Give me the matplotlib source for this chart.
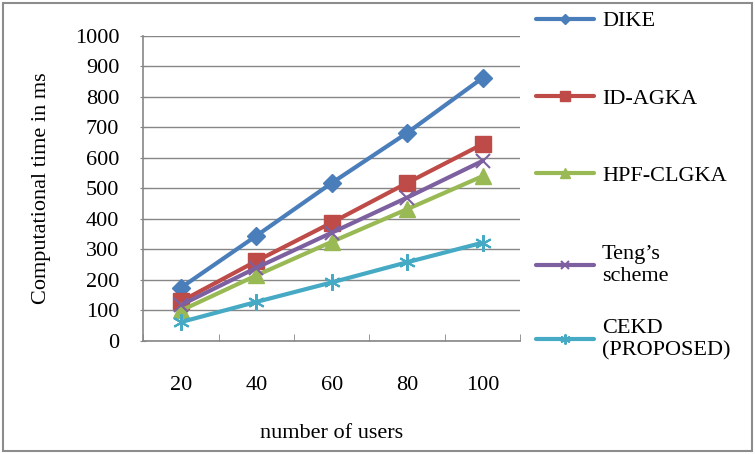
import numpy as np
import matplotlib.pyplot as plt
from matplotlib.patches import Rectangle

# data
users = ['20', '40', '60', '80', '100']
dike = [175, 345, 518, 682, 862]
id_agka = [130, 262, 388, 518, 645]
hpf_clgka = [100, 215, 325, 432, 540]
teng = [118, 240, 355, 470, 590]
cekd = [62, 128, 192, 258, 322]

series = [
    ('DIKE', dike, '#4A7EBB', 'D', 9),
    ('ID-AGKA', id_agka, '#BE4B48', 's', 11),
    ('HPF-CLGKA', hpf_clgka, '#98B954', '^', 11),
    ("Teng\u2019s\nscheme", teng, '#7D60A0', 'x', 10),
    ('CEKD\n(PROPOSED)', cekd, '#46AAC5', (6, 2, 0), 12),
]

plt.rcParams['font.family'] = ['Liberation Serif', 'DejaVu Serif']
plt.rcParams['font.size'] = 16

fig = plt.figure(figsize=(7.55, 4.54), dpi=100)
ax = fig.add_axes([0.19, 0.249, 0.499, 0.672])

x = np.arange(len(users))
handles = []
for name, vals, col, mk, ms in series:
    h, = ax.plot(x, vals, color=col, lw=3, marker=mk, markersize=ms,
                 markeredgecolor=col, markeredgewidth=1.5 if mk in ('x', (6, 2, 0)) else 1,
                 label=name, solid_capstyle='round')
    handles.append(h)

ax.set_xlim(-0.5, len(users) - 0.5)
ax.set_ylim(0, 1000)
ax.set_yticks(np.arange(0, 1001, 100))
ax.set_xticks(x)
ax.set_xticklabels(users)
ax.set_xticks(np.arange(-0.5, len(users), 1), minor=True)
ax.tick_params(axis='x', which='major', length=0, pad=25)
ax.tick_params(axis='x', which='minor', length=5, color='#868686', direction='in')
ax.tick_params(axis='y', length=5, color='#868686', direction='inout', pad=15)
ax.grid(axis='y', color='#868686', lw=1)
ax.set_axisbelow(True)
for s in ['top', 'right']:
    ax.spines[s].set_visible(False)
for s in ['left', 'bottom']:
    ax.spines[s].set_color('#868686')
    ax.spines[s].set_linewidth(1.2)

ax.set_xlabel('number of users', labelpad=21)
ax.set_ylabel('Computational time in ms', labelpad=17)

# legend on the right, split in two blocks to follow the reference spacing
leg_kw = dict(loc='upper left', frameon=False, handlelength=2.6, handletextpad=0.35,
              markerscale=0.6, fontsize=16)
leg1 = fig.legend(handles=handles[:3], bbox_to_anchor=(0.684, 1.02),
                  labelspacing=2.55, **leg_kw)
leg2 = fig.legend(handles=handles[3:], bbox_to_anchor=(0.684, 0.504),
                  labelspacing=1.5, **leg_kw)

# grey outer frame
fig.patches.append(Rectangle((0.004, 0.006), 0.992, 0.988, transform=fig.transFigure,
                             fill=False, edgecolor='#8c8c8c', lw=1.5))

plt.savefig('out.png')
